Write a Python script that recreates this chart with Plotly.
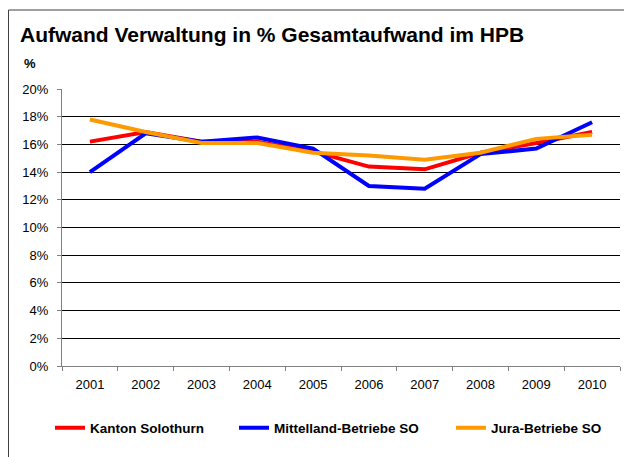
import plotly.graph_objects as go

years = ["2001", "2002", "2003", "2004", "2005", "2006", "2007", "2008", "2009", "2010"]
kanton = [16.2, 16.9, 16.2, 16.2, 15.5, 14.4, 14.2, 15.4, 16.1, 16.9]
mittelland = [14.0, 16.8, 16.2, 16.5, 15.7, 13.0, 12.8, 15.3, 15.7, 17.6]
jura = [17.8, 16.9, 16.1, 16.1, 15.4, 15.2, 14.9, 15.4, 16.4, 16.7]

names = ["Kanton Solothurn", "Mittelland-Betriebe SO", "Jura-Betriebe SO"]
colors = ["#FF0000", "#0000FF", "#FF9900"]

# page body has an 8px margin, so the figure is sized to fit the 632x457 window
W, H = 624, 449
L, R, T, B = 54, 12, 81, 91
pw, ph = W - L - R, H - T - B

def px(x):
    return (x - L) / pw

def py(y):
    return (H - B - y) / ph

legend_ids = ["legend", "legend2", "legend3"]
legend_left = [42, 226, 443]

fig = go.Figure()
for name, vals, col, lid in zip(names, [kanton, mittelland, jura], colors, legend_ids):
    fig.add_trace(go.Scatter(x=years, y=vals, name=name, mode="lines",
                             line=dict(color=col, width=4), legend=lid))

font = "Liberation Sans, Arial, sans-serif"
legend_style = dict(orientation="h", xanchor="left", y=py(420), yanchor="middle",
                    font=dict(family=font, size=13.5, color="black", weight="bold"),
                    bgcolor="rgba(0,0,0,0)")
legends = {lid: dict(legend_style, x=px(xl)) for lid, xl in zip(legend_ids, legend_left)}

fig.update_layout(
    width=W, height=H,
    margin=dict(l=L, r=R, t=T, b=B),
    paper_bgcolor="white", plot_bgcolor="white",
    font=dict(family=font, size=13, color="black"),
    showlegend=True,
    xaxis=dict(type="category", showline=True, linecolor="#808080", linewidth=1,
               ticks="outside", ticklen=4, tickcolor="#808080", tickson="boundaries",
               showgrid=False, tickfont=dict(size=13), range=[-0.5, 9.5],
               ticklabelstandoff=6),
    yaxis=dict(range=[0, 20], dtick=2, ticksuffix="%", showline=True, linecolor="#808080",
               linewidth=1, ticks="outside", ticklen=4, tickcolor="#808080",
               showgrid=True, gridcolor="black", gridwidth=1, zeroline=False,
               tickfont=dict(size=13), ticklabelstandoff=6),
    **legends,
)
fig.add_annotation(text="<b>Aufwand Verwaltung in % Gesamtaufwand im HPB</b>",
                   xref="paper", yref="paper", x=px(10), y=py(27),
                   xanchor="left", yanchor="middle", showarrow=False,
                   font=dict(family=font, size=21, color="black"))
fig.add_annotation(text="<b>%</b>", xref="paper", yref="paper", x=px(21.5), y=py(55.5),
                   xanchor="center", yanchor="middle", showarrow=False,
                   font=dict(family=font, size=13, color="black"))
fig.add_shape(type="rect", xref="paper", yref="paper",
              x0=px(0.5), x1=px(W + 10), y0=py(H + 10), y1=py(2),
              line=dict(color="#404040", width=1), layer="below")
fig.write_html("out.html")
